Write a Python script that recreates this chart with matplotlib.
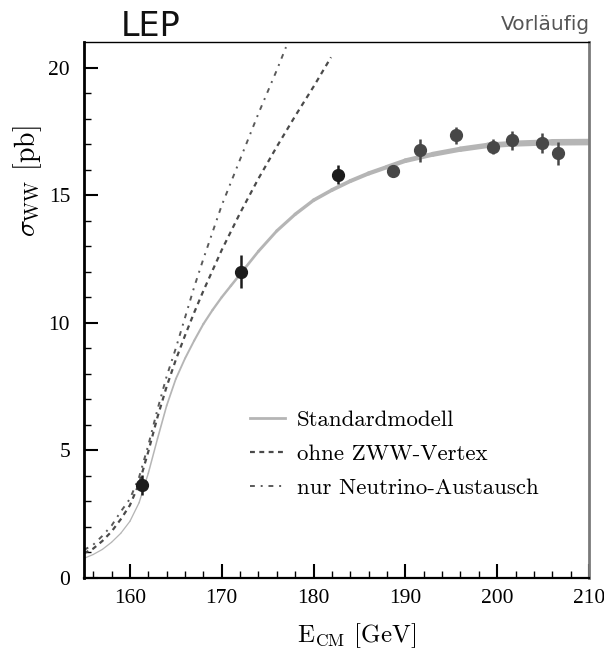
import numpy as np
import matplotlib
matplotlib.use("Agg")
import matplotlib.pyplot as plt
from matplotlib.collections import LineCollection
from matplotlib.lines import Line2D

# ---- data ----
energy = [161.3, 172.1, 182.7, 188.6, 191.6, 195.5, 199.5, 201.6, 204.9, 206.6]
xsec = [3.65, 12.0, 15.8, 15.95, 16.75, 17.35, 16.9, 17.15, 17.05, 16.65]
xsec_err = [0.4, 0.65, 0.37, 0.12, 0.45, 0.33, 0.3, 0.38, 0.38, 0.45]

sm_x = [155, 156, 157, 158, 159, 160, 161, 162, 163, 164, 165, 166, 167, 168, 169,
        170, 171, 172, 174, 176, 178, 180, 182, 184, 186, 188, 190, 193, 196, 199,
        202, 206, 210]
sm_y = [0.77, 0.92, 1.12, 1.4, 1.75, 2.22, 2.95, 4.1, 5.45, 6.75, 7.8, 8.6, 9.3,
        9.95, 10.5, 11.0, 11.45, 11.9, 12.8, 13.6, 14.25, 14.8, 15.2, 15.55, 15.85,
        16.1, 16.35, 16.6, 16.8, 16.95, 17.02, 17.07, 17.08]

nozww_x = [155, 156, 157, 158, 159, 160, 161, 162, 163, 164, 165, 166, 167, 168,
           170, 172, 174, 176, 178, 180, 181.9]
nozww_y = [0.97, 1.15, 1.45, 1.82, 2.3, 2.85, 3.7, 4.95, 6.3, 7.5, 8.55, 9.5, 10.4,
           11.25, 12.85, 14.3, 15.65, 16.9, 18.1, 19.25, 20.4]

nu_x = [155, 156, 157, 158, 159, 160, 161, 162, 163, 164, 165, 166, 167, 168,
        170, 172, 174, 176, 177.0]
nu_y = [1.1, 1.3, 1.65, 2.05, 2.6, 3.1, 3.95, 5.2, 6.6, 7.9, 9.0, 10.2, 11.4,
        12.5, 14.6, 16.4, 18.2, 19.9, 20.8]

labels = ["Standardmodell", "ohne ZWW-Vertex", "nur Neutrino-Austausch"]

# ---- figure ----
plt.rcParams['mathtext.fontset'] = 'cm'
fig = plt.figure(figsize=(6.04, 6.50), dpi=100)
ax = fig.add_axes([84/604, 72/650, (589-84)/604, (578-42)/650])

sm_color = '#b5b5b5'
nz_style = dict(color='#4a4a4a', lw=1.6, ls=(0, (2.2, 2.0)))
nu_style = dict(color='#5a5a5a', lw=1.4, ls=(0, (2.5, 3.0, 1.0, 3.0)))

# Standard model: grey band, thin at threshold, thicker at high energy
sx = np.array(sm_x, dtype=float)
sy = np.array(sm_y, dtype=float)
pts = np.column_stack([sx, sy]).reshape(-1, 1, 2)
segs = np.concatenate([pts[:-1], pts[1:]], axis=1)
mid = 0.5 * (sx[:-1] + sx[1:])
widths = 0.9 + 4.0 * np.clip((mid - 160) / 50.0, 0, 1)
lc = LineCollection(segs, colors=sm_color, linewidths=widths, capstyle='round',
                    joinstyle='round', zorder=2)
ax.add_collection(lc)

ax.plot(nozww_x, nozww_y, zorder=2, **nz_style)
ax.plot(nu_x, nu_y, zorder=2, **nu_style)

# data points
for i, (e, s, d) in enumerate(zip(energy, xsec, xsec_err)):
    c = '#1c1c1c' if i < 3 else '#474747'
    ax.errorbar(e, s, yerr=d, fmt='o', color=c, ms=8.5, elinewidth=1.8,
                capsize=0, zorder=4)

ax.set_xlim(155, 210)
ax.set_ylim(0, 21)
ax.set_xticks([160, 170, 180, 190, 200, 210])
ax.set_xticks(np.arange(156, 210, 2), minor=True)
ax.set_yticks([0, 5, 10, 15, 20])
ax.set_yticks(np.arange(1, 21, 1), minor=True)
ax.tick_params(axis='both', which='both', direction='in', top=False, right=False,
               labelsize=15.5, colors='black')
ax.tick_params(which='major', length=10, width=1.5)
ax.tick_params(which='minor', length=5, width=1.0)
ax.tick_params(axis='x', pad=8)
ax.tick_params(axis='y', pad=10)
for lab in ax.get_xticklabels() + ax.get_yticklabels():
    lab.set_fontfamily('Liberation Serif')

ax.spines['left'].set_linewidth(2.0)
ax.spines['bottom'].set_linewidth(1.6)
ax.spines['top'].set_linewidth(1.0)
ax.spines['right'].set_linewidth(2.0)
ax.spines['right'].set_color('#7a7a7a')

ax.set_xlabel(r'E$_{\rm CM}$ [GeV]', fontfamily='cmr10', fontsize=18)
ax.xaxis.set_label_coords(0.54, -0.08)
ax.set_ylabel(r'$\sigma_{\rm WW}$ [pb]', fontfamily='cmr10', fontsize=20)
ax.yaxis.set_label_coords(-0.08, 0.74)

# legend
handles = [Line2D([], [], color=sm_color, lw=2.0),
           Line2D([], [], **nz_style),
           Line2D([], [], **nu_style)]
leg = ax.legend(handles, labels, loc='upper left', bbox_to_anchor=(0.31, 0.331),
                frameon=False, prop={'family': 'cmr10', 'size': 16.5},
                handlelength=1.55, handletextpad=0.52, labelspacing=0.62,
                borderaxespad=0)

fig.text(121/604, 1 - 27/650, 'LEP', fontfamily='DejaVu Sans', fontsize=24,
         va='center', ha='left', color='#111111')
fig.text(590/604, 1 - 25/650, 'Vorläufig', fontfamily='DejaVu Sans', fontsize=14.5,
         va='center', ha='right', color='#555555')

fig.savefig('out.png', dpi=100)
